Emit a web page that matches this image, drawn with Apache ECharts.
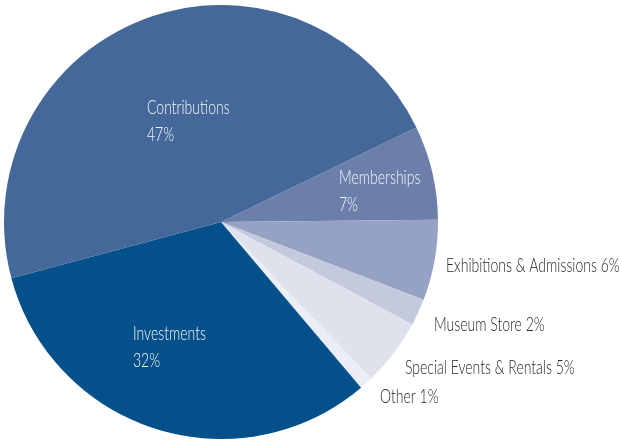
<!DOCTYPE html>
<html>
<head>
<meta charset="utf-8">
<script src="https://cdn.jsdelivr.net/npm/echarts@6/dist/echarts.min.js"></script>
<style>
  html, body { margin: 0; padding: 0; background: #ffffff; }
  #chart { width: 622px; height: 441px; }
</style>
</head>
<body>
<div id="chart"></div>
<script>
// Revenue sources, in percent of total
const categories = [
  'Memberships',
  'Exhibitions & Admissions',
  'Museum Store',
  'Special Events & Rentals',
  'Other',
  'Investments',
  'Contributions'
];
const values = [7, 6, 2, 5, 1, 32, 47];
const colors = ['#6c7fab', '#95a2c4', '#c4c9de', '#dfe2ed', '#eceef5', '#03508a', '#446899'];

// Slices whose label sits inside the wedge on two lines
const insideLabels = ['Memberships', 'Investments', 'Contributions'];

// Label anchor points (left edge, vertical middle of the label block)
const labelAnchors = {
  'Contributions': [147, 121],
  'Memberships': [339, 191],
  'Investments': [133, 347],
  'Exhibitions & Admissions': [446, 266],
  'Museum Store': [434, 325],
  'Special Events & Rentals': [405, 368],
  'Other': [380, 397]
};

const fontFamily = "Lato, 'Open Sans', 'Liberation Sans', sans-serif";
// Horizontal squeeze giving the labels a condensed look
const LABEL_SQUEEZE = 0.70;

const chart = echarts.init(document.getElementById('chart'), null, { renderer: 'canvas' });

const data = categories.map((name, i) => {
  const inside = insideLabels.includes(name);
  return {
    name: name,
    value: values[i],
    itemStyle: { color: colors[i] },
    label: inside
      ? {
          position: 'inside',
          color: '#f4f6fa',
          formatter: '{b}\n{c}%',
          lineHeight: 27,
          align: 'left'
        }
      : {
          position: 'outside',
          color: '#262626',
          formatter: '{b} {c}%'
        },
    labelLine: { show: false }
  };
});

chart.setOption({
  animation: false,
  backgroundColor: '#ffffff',
  series: [{
    type: 'pie',
    center: [221, 222],
    radius: [0, 217],
    startAngle: 25.8,
    clockwise: true,
    avoidLabelOverlap: false,
    itemStyle: { borderWidth: 0 },
    label: {
      fontFamily: fontFamily,
      fontSize: 20,
      fontWeight: 300,
      overflow: 'none'
    },
    labelLine: { show: false },
    labelLayout: function (params) {
      const name = categories[params.dataIndex];
      const p = labelAnchors[name];
      return {
        x: p[0],
        y: p[1],
        align: 'left',
        verticalAlign: 'middle'
      };
    },
    data: data
  }]
});

// Narrow the slice labels horizontally, keeping their left edge in place
const zr = chart.getZr();
zr.storage.getRoots().forEach(function (root) {
  root.traverse(function (el) {
    const label = el.getTextContent && el.getTextContent();
    if (label) {
      label.scaleX = LABEL_SQUEEZE;
      label.originX = 0;
      label.originY = 0;
      label.markRedraw();
      el.markRedraw();
    }
  });
});
zr.refreshImmediately();
</script>
</body>
</html>
